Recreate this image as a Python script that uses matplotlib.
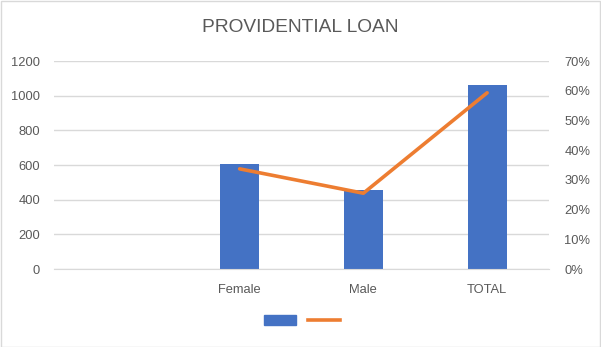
import numpy as np
import matplotlib
matplotlib.use("Agg")
import matplotlib.pyplot as plt
from matplotlib.patches import Patch, Rectangle
from matplotlib.lines import Line2D
from matplotlib.ticker import PercentFormatter

# data
categories = ["", "Female", "Male", "TOTAL"]
counts = [np.nan, 606, 456, 1063]
shares = [np.nan, 0.337, 0.255, 0.593]

blue = "#4472C4"
orange = "#ED7D31"
grey_text = "#595959"
grid_col = "#D9D9D9"

plt.rcParams["font.family"] = ["Liberation Sans", "DejaVu Sans"]

fig = plt.figure(figsize=(6.01, 3.47), dpi=100)
W, H = 601, 347
ax = fig.add_axes([54 / W, (H - 269) / H, (549 - 54) / W, (269 - 61) / H])
ax2 = ax.twinx()

x = np.arange(len(categories))
ax.bar(x, counts, width=0.315, color=blue, zorder=2)
ax2.plot(x, shares, color=orange, lw=2.6, solid_capstyle="round", zorder=3)

ax.set_xlim(-0.5, len(categories) - 0.5)
ax.set_ylim(0, 1200)
ax.set_yticks(np.arange(0, 1201, 200))
ax2.set_ylim(0, 0.7)
ax2.set_yticks(np.arange(0, 0.71, 0.1))
ax2.yaxis.set_major_formatter(PercentFormatter(1.0, decimals=0))

ax.set_xticks(x)
ax.set_xticklabels(categories)
ax.grid(axis="y", color=grid_col, lw=1, zorder=0)
ax.set_axisbelow(True)

for a in (ax, ax2):
    for s in a.spines.values():
        s.set_visible(False)
    a.tick_params(length=0, labelsize=9.3, colors=grey_text)
ax.spines["bottom"].set_visible(True)
ax.spines["bottom"].set_color(grid_col)
ax.tick_params(axis="y", pad=10)
ax.tick_params(axis="x", pad=11)
ax2.tick_params(axis="y", pad=11)

fig.text(300 / W, (H - 27) / H, "PROVIDENTIAL LOAN", ha="center", va="center",
         fontsize=13.8, color=grey_text)

handles = [Patch(color=blue), Line2D([0], [0], color=orange, lw=2.6)]
fig.legend(handles, ["", ""], loc="center", bbox_to_anchor=(302 / W, (H - 321) / H),
           ncol=2, frameon=False, handlelength=2.6, handleheight=0.8,
           handletextpad=0, columnspacing=0.9, fontsize=9)

fig.add_artist(Rectangle((0.5 / W, 0.5 / H), 1 - 1.5 / W, 1 - 1.5 / H,
                         transform=fig.transFigure, fill=False, ec=grid_col, lw=1))

fig.savefig("out.png", dpi=100)
